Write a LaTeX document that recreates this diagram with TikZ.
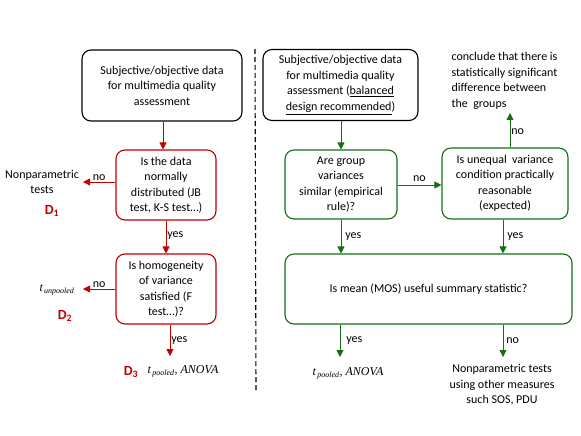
\documentclass[tikz,border=0pt]{standalone}
\usepackage{fontspec}
\setmainfont{Carlito}
\newfontfamily\tms{Liberation Serif}
\usetikzlibrary{arrows.meta,positioning,calc}
\definecolor{dred}{RGB}{192,0,0}
\definecolor{dgreen}{RGB}{20,110,20}
\newcommand{\tpool}[1]{{\tms\itshape t\textsubscript{\,#1}}}
\newcommand{\dlab}[1]{{\color{dred}\bfseries\fontsize{14}{16}\selectfont D\textsubscript{#1}}}
\begin{document}
\begin{tikzpicture}[
    x=1pt, y=-1pt,
    every node/.style={font=\fontsize{12}{15.5}\selectfont},
    bx/.style={draw, rounded corners=9pt, line width=1.1pt, align=center, inner sep=2pt, text=black},
    rb/.style={bx, draw=dred},
    gb/.style={bx, draw=dgreen},
    kb/.style={bx, draw=black},
    ra/.style={-{Triangle[length=7pt,width=7pt]}, dred, line width=0.8pt},
    ga/.style={-{Triangle[length=7pt,width=7pt]}, dgreen, line width=0.8pt},
    lb/.style={inner sep=1pt, text=black}
  ]
    \useasboundingbox (0,0) rectangle (581,436);
    % ---- left: normality / homogeneity ----
    \node[kb, minimum width=160pt, minimum height=71pt] (ltop) at (162,85.5)
      {Subjective/objective data\\for multimedia quality\\assessment};
    \node[rb, minimum width=100pt, minimum height=70pt] (lq1) at (166,185)
      {Is the data\\normally\\distributed (JB\\test, K-S test\ldots)};
    \node[rb, minimum width=100pt, minimum height=70pt] (lq2) at (166,289)
      {Is homogeneity\\of variance\\satisfied (F\\test\ldots)?};
    \node[align=center] (lnp) at (42,182) {Nonparametric\\tests};
    \node (ld1) at (52,211) {\dlab{1}};
    \node (ltun) at (57,290) {\tpool{unpooled}};
    \node (ld2) at (65,316) {\dlab{2}};
    \node (ld3) at (131,372) {\dlab{3}};
    \node (ltpo) at (183,371) {\tpool{pooled}{\tms\itshape, ANOVA}};
    \coordinate (lno1) at (83,182);
    \coordinate (lno2) at (83,289);
    \coordinate (lyes2) at (170,356);
    \draw[ra] (ltop.south -| 163,0) -- (lq1.north -| 163,0);
    \draw[ra] (lq1.west |- lno1) -- node[lb, above] {no} (lno1);
    \draw[ra] (lq1.south) -- node[lb, right, pos=0.45] {yes} (lq2.north);
    \draw[ra] (lq2.west |- lno2) -- node[lb, above] {no} (lno2);
    \draw[ra] (lq2.south -| lyes2) -- node[lb, right] {yes} (lyes2);
    % ---- separator ----
    \coordinate (sept) at (255,49);
    \coordinate (sepb) at (256,391);
    \draw[dashed, line width=1.1pt, dash pattern=on 5pt off 3pt] (sept) -- (sepb);
    % ---- right: empirical rule ----
    \node[kb, minimum width=155pt, minimum height=71pt] (rtop) at (340.5,85)
      {Subjective/objective data\\for multimedia quality\\assessment (\underline{balanced}\\\underline{design recommended})};
    \node[gb, minimum width=112pt, minimum height=69pt] (rq1) at (341,184.5)
      {Are group\\variances\\similar (empirical\\rule)?};
    \node[gb, minimum width=126pt, minimum height=71pt] (rq2) at (505,183.5)
      {Is unequal\ \ variance\\condition practically\\reasonable\\(expected)};
    \node[align=left, anchor=west] (rcon) at (448,81)
      {conclude that there is\\statistically significant\\difference between\\the\ \ groups};
    \node[gb, minimum width=287pt, minimum height=70pt] (rq3) at (428.5,289)
      {Is mean (MOS) useful summary statistic?};
    \node (rtpo) at (348,373) {\tpool{pooled}{\tms\itshape, ANOVA}};
    \node[align=center] (rnp) at (502,385)
      {Nonparametric tests\\using other measures\\such SOS, PDU};
    \coordinate (ryes) at (340,357);
    \coordinate (rno) at (503,357);
    \draw[ga] (rtop.south -| 341,0) -- (rq1.north -| 341,0);
    \draw[ga] (rq1.east |- 0,185) -- node[lb, above, yshift=2pt] {no} (rq2.west |- 0,185);
    \draw[ga] (rq2.north -| 510,0) -- node[lb, right, pos=0.45] {no} (rcon.south -| 510,0);
    \draw[ga] (rq1.south -| 341,0) -- node[lb, right, xshift=3pt] {yes} (rq3.north -| 341,0);
    \draw[ga] (rq2.south -| 503,0) -- node[lb, right, xshift=3pt] {yes} (rq3.north -| 503,0);
    \draw[ga] (rq3.south -| ryes) -- node[lb, right, xshift=5pt] {yes} (ryes);
    \draw[ga] (rq3.south -| rno) -- node[lb, right, xshift=2pt] {no} (rno);
  \end{tikzpicture}
\end{document}
